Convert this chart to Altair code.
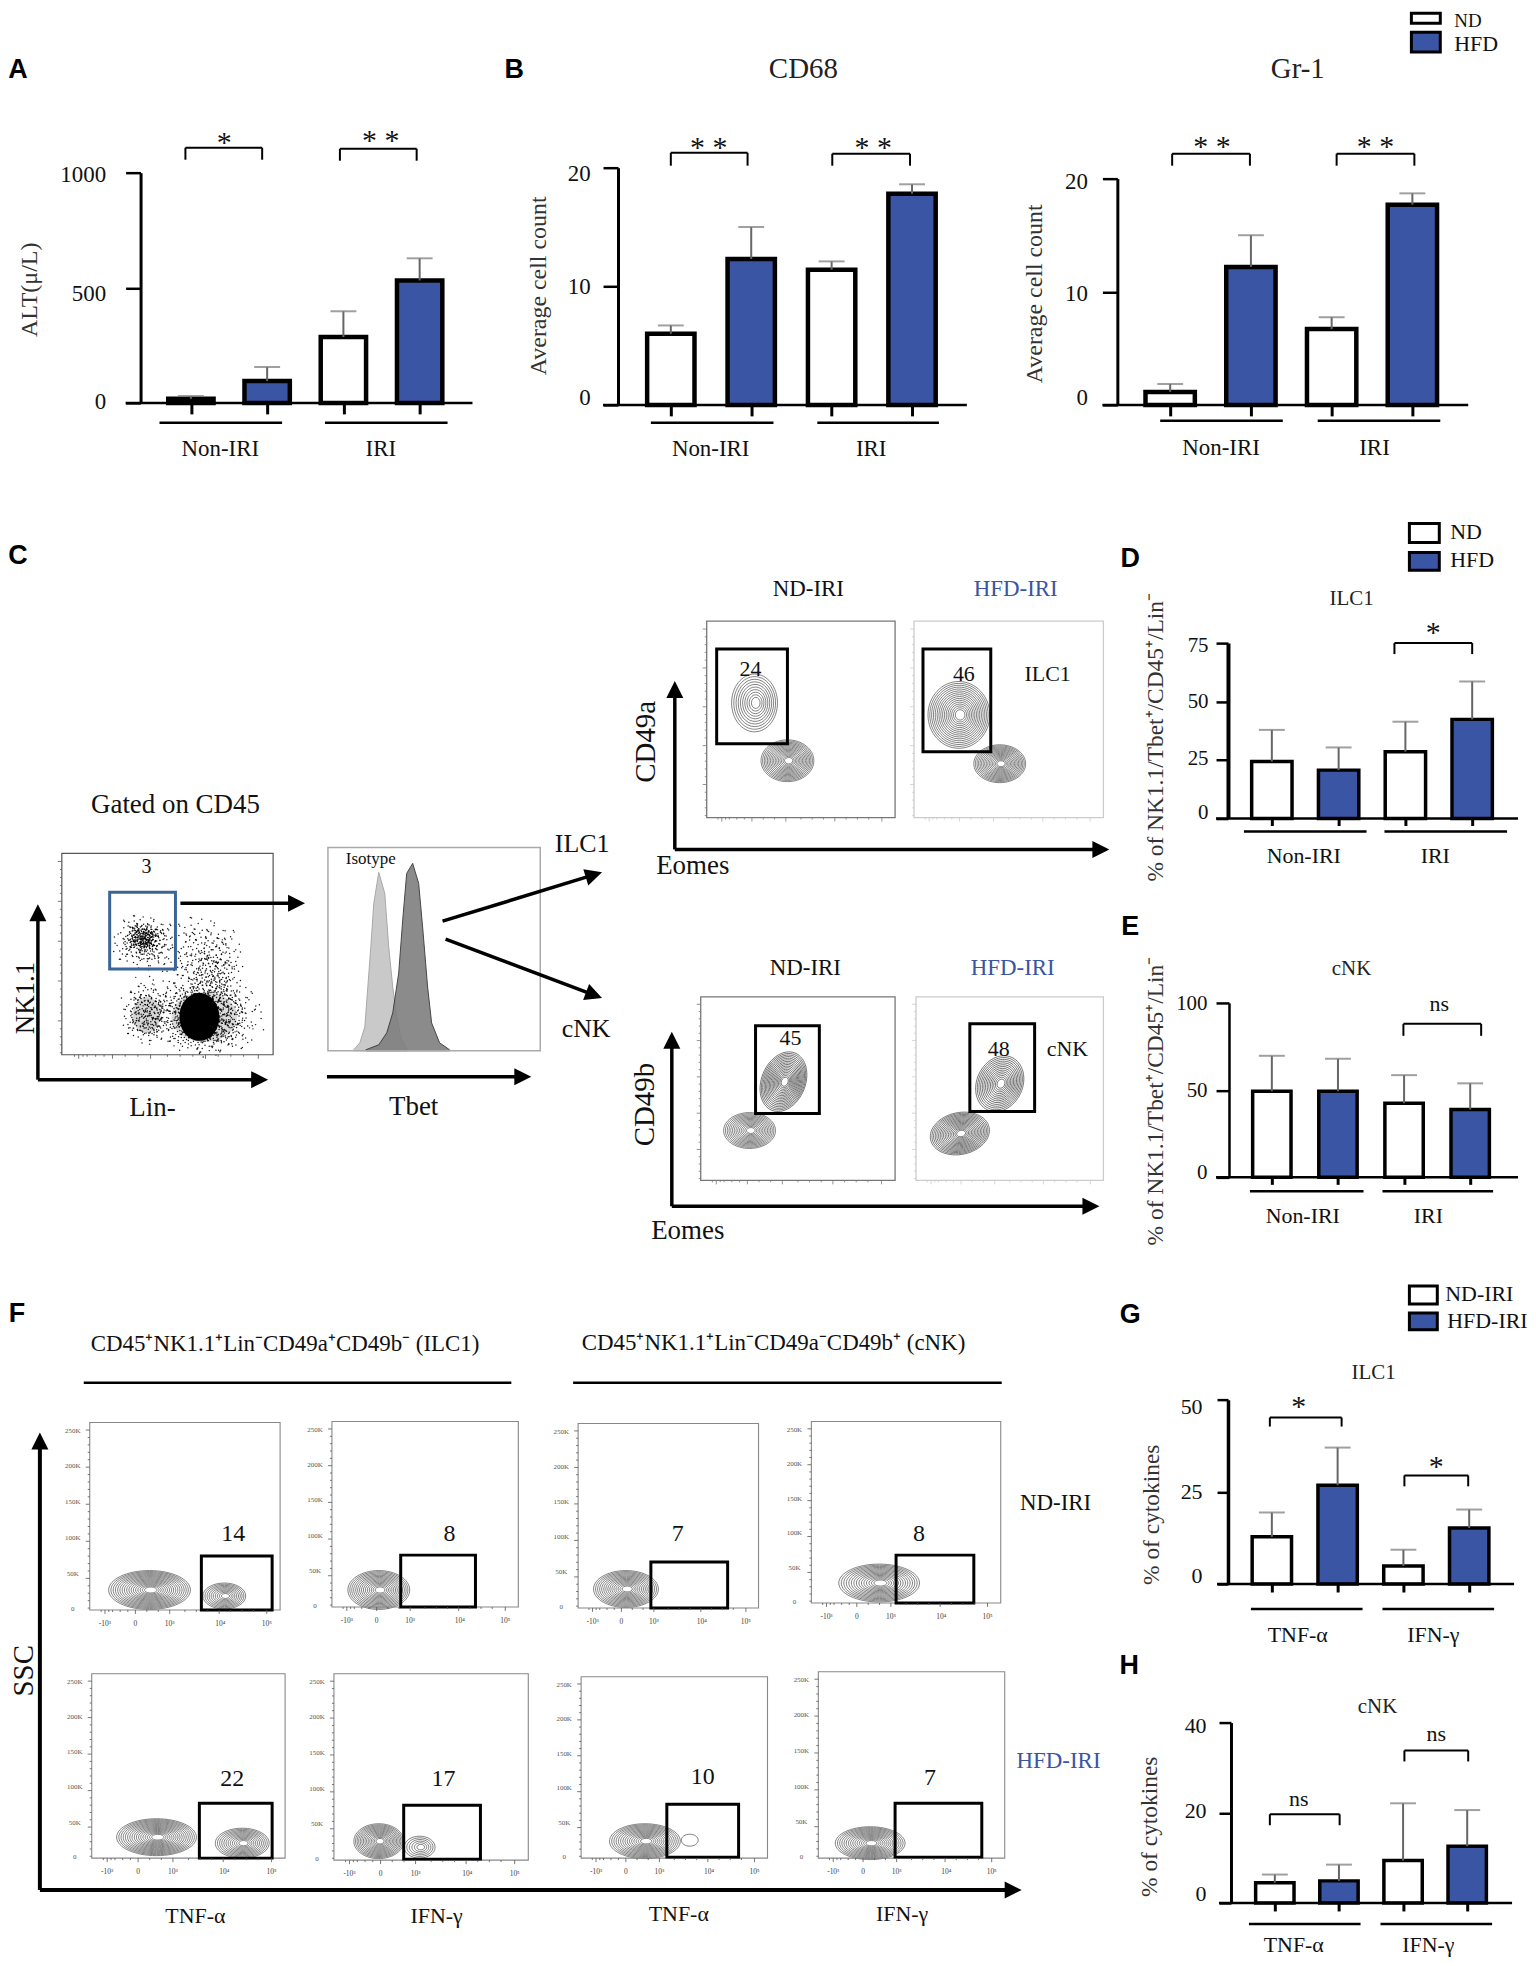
import math
import altair as alt
import pandas as pd

SERIF = "Liberation Serif"
SANS = "Liberation Sans"
BLUE = "#3a55a3"
INK = "#111111"

# ---------- bar chart values ----------
A_VAL, A_ERR = [18, 95, 286, 532], [30, 156, 398, 628]
CD68_VAL, CD68_ERR = [6.0, 12.3, 11.4, 17.8], [6.7, 15.0, 12.1, 18.6]
GR1_VAL, GR1_ERR = [1.15, 12.2, 6.7, 17.7], [1.85, 15.0, 7.75, 18.7]
D_VAL, D_ERR = [24.4, 20.7, 28.6, 42.4], [37.9, 30.4, 41.4, 58.6]
E_VAL, E_ERR = [49.4, 49.4, 42.5, 38.9], [69.7, 68.0, 58.6, 53.9]
G_VAL, G_ERR = [12.8, 26.8, 4.9, 15.2], [19.4, 37.0, 9.3, 20.2]
H_VAL, H_ERR = [4.5, 4.9, 9.4, 12.6], [6.3, 8.5, 22.1, 20.6]
DIETS = ["ND", "HFD", "ND", "HFD"]
PLACE = ["Non-IRI ND", "Non-IRI HFD", "IRI ND", "IRI HFD"]
CYTO = ["TNF-a ND", "TNF-a HFD", "IFN-g ND", "IFN-g HFD"]

# ---------- histogram outlines ----------
ISO_X = [355, 361, 366, 369, 372, 375, 380, 386, 390, 394, 398, 402, 408]
ISO_Y = [1050, 1043, 1027, 987, 947, 903, 872, 893, 947, 987, 1017, 1037, 1049]
TBET_X = [367, 380, 388, 394, 400, 404, 408, 414, 420, 424, 429, 433, 441, 451]
TBET_Y = [1050, 1045, 1033, 1013, 973, 920, 873, 863, 883, 927, 987, 1023, 1043, 1050]

# ---------- stipple offsets for the dot plot (hand placed in a unit disc) ----------
STIPPLE = [(-.82, .12), (-.71, -.33), (-.66, .41), (-.58, -.02), (-.52, .66), (-.49, -.56),
           (-.44, .25), (-.38, -.24), (-.35, .5), (-.31, -.74), (-.27, .08), (-.22, .78),
           (-.19, -.41), (-.15, .36), (-.11, -.12), (-.08, .6), (-.04, -.88), (-.01, .19),
           (.03, -.3), (.07, .46), (.1, -.61), (.13, .03), (.17, .82), (.2, -.17),
           (.24, .31), (.28, -.79), (.31, .57), (.35, -.45), (.38, .12), (.42, .72),
           (.46, -.06), (.5, -.62), (.53, .38), (.57, -.28), (.61, .55), (.64, .09),
           (.69, -.47), (.73, .27), (.78, -.13), (.84, .19), (-.9, -.18), (.91, -.3),
           (-.6, -.72), (.58, .78), (-.75, .6), (.76, -.62), (-.33, -.92), (.12, .94),
           (-.12, .3), (.06, -.47), (-.42, -.1), (.33, .22), (-.25, -.55), (.22, .6),
           (-.55, .15), (.47, -.35), (-.05, .05), (.15, -.05), (-.18, .52), (.4, .48)]

rules, rects, texts, heads, rings, solids = [], [], [], [], [], []


def text(s, x, y, size=22, color=INK, angle=0):
    texts.append(dict(t=s, x=x, y=y, size=size, c=color, a=angle))


def rule(x1, y1, x2, y2, w=2.5, c="black"):
    rules.append(dict(x=x1, x2=x2, y=y1, y2=y2, w=w, c=c))


def rect(x1, y1, x2, y2, stroke="black", w=3, fill="white", fo=0):
    rects.append(dict(x=x1, x2=x2, y=y1, y2=y2, s=stroke, w=w, f=fill, fo=fo))


def arrow(x1, y1, x2, y2, w=3.5):
    ang = math.degrees(math.atan2(x2 - x1, y1 - y2))
    d = math.hypot(x2 - x1, y2 - y1)
    k = (d - 14) / d
    rule(x1, y1, x1 + (x2 - x1) * k, y1 + (y2 - y1) * k, w)
    heads.append(dict(x=x2, y=y2, a=ang))


def oval(w, h):
    if w >= h:
        b = round(h / w, 3)
        return f"M-1,0A1,{b},0,1,0,1,0A1,{b},0,1,0,-1,0Z", w
    a = round(w / h, 3)
    return f"M-{a},0A{a},1,0,1,0,{a},0A{a},1,0,1,0,-{a},0Z", h


def blob(cx, cy, w, h, rot=0, n=15, core=True):
    path, major = oval(w, h)
    for i in range(n):
        f = 1 - .9 * i / max(n, 1)
        rings.append(dict(x=cx + (1 - f) * 1.5, y=cy, p=path, s=(major * f) ** 2, a=rot))
    if core:
        solids.append(dict(x=cx + 1.3, y=cy, p=path, s=(major * .07) ** 2, a=rot, c="white", o=1))


def solid(cx, cy, w, h, op, c="black"):
    path, major = oval(w, h)
    solids.append(dict(x=cx, y=cy, p=path, s=major ** 2, a=0, c=c, o=op))


def frame_ticks(x1, y1, x2, y2, c="#666666"):
    n = 24
    for i in range(n + 1):
        yy = y1 + (y2 - y1) * (.04 + .95 * i / n)
        rule(x1 - (4 if i % 5 == 0 else 2), yy, x1, yy, .8, c)
    for f in (.06, .08, .1, .12, .16, .2, .24, .3, .36, .42, .5, .56, .62, .68, .74, .8, .86, .93):
        xx = x1 + (x2 - x1) * f
        rule(xx, y2, xx, y2 + (4 if f in (.08, .24, .42, .68, .93) else 2), .8, c)


# ---------- panel letters ----------
for s, x, y in [("A", 18, 67), ("B", 516, 67), ("C", 18, 555), ("D", 1134, 558), ("E", 1134, 927),
                ("F", 17, 1315), ("G", 1134, 1316), ("H", 1133, 1668)]:
    texts.append(dict(t=s, x=x, y=y, size=27, c="black", a=0, letter=True))

# ---------- legends ----------
for x1, x2, ya, yb, yc, yd, la, lb, xa, xb, ty1, ty2, sz1, sz2 in [
    (1416, 1445, 10, 20, 29, 49, "ND", "HFD", 1459, 1459, 18, 41, 19, 22),
    (1414, 1444, 522, 541, 551, 569, "ND", "HFD", 1455, 1455, 531, 559, 22, 22),
    (1414, 1442, 1287, 1305, 1314, 1331, "ND-IRI", "HFD-IRI", 1450, 1452, 1295, 1322, 22, 22),
]:
    rect(x1, ya, x2, yb, "black", 3, "white", 1)
    rect(x1, yc, x2, yd, "black", 3, BLUE, 1)
    texts.append(dict(t=la, x=xa, y=ty1, size=sz1, c=INK, a=0, left=True))
    texts.append(dict(t=lb, x=xb, y=ty2, size=sz2, c=INK, a=0, left=True))

# ---------- bar chart annotations ----------
for s, x, y, z in [("CD68", 806, 66, 29), ("Gr-1", 1302, 66, 29), ("ILC1", 1356, 598, 21),
                   ("cNK", 1356, 969, 21), ("ILC1", 1378, 1374, 21), ("cNK", 1382, 1709, 21)]:
    text(s, x, y, z, "#222222")
for s, x, y, z in [("Non-IRI", 221, 447, 23), ("IRI", 382, 447, 23), ("Non-IRI", 713, 447, 23), ("IRI", 874, 447, 23),
                   ("Non-IRI", 1225, 446, 23), ("IRI", 1379, 446, 23), ("Non-IRI", 1308, 856, 22), ("IRI", 1440, 856, 22),
                   ("Non-IRI", 1307, 1217, 22), ("IRI", 1433, 1217, 22), ("TNF-α", 1302, 1637, 22), ("IFN-γ", 1438, 1637, 22),
                   ("TNF-α", 1298, 1948, 22), ("IFN-γ", 1433, 1948, 22)]:
    text(s, x, y, z)
for x1, x2, y in [(160, 283, 421), (326, 449, 421), (653, 776, 421), (820, 942, 421), (1164, 1287, 419), (1322, 1445, 419),
                  (1248, 1371, 831), (1389, 1512, 831), (1254, 1368, 1192), (1387, 1498, 1192),
                  (1255, 1367, 1611), (1387, 1499, 1611), (1253, 1365, 1927), (1385, 1497, 1927)]:
    rule(x1, y, x2, y, 2.5)
for x1, x2, y1, y2 in [(186, 263, 145, 157), (341, 418, 146, 158), (673, 750, 150, 163), (835, 913, 151, 163),
                       (1176, 1254, 151, 163), (1341, 1419, 151, 163), (1399, 1477, 642, 653), (1408, 1486, 1024, 1036),
                       (1274, 1346, 1419, 1428), (1409, 1473, 1477, 1488), (1274, 1344, 1817, 1828), (1409, 1473, 1753, 1764)]:
    rule(x1, y1, x2, y1, 2)
    rule(x1, y1, x1, y2, 2)
    rule(x2, y1, x2, y2, 2)
for s, x, y, z in [("*", 225, 140, 30), ("* *", 382, 138, 30), ("* *", 711, 145, 30), ("* *", 876, 145, 30),
                   ("* *", 1216, 144, 30), ("* *", 1380, 144, 30), ("*", 1438, 632, 30), ("*", 1303, 1408, 30), ("*", 1441, 1469, 30),
                   ("ns", 1444, 1004, 22), ("ns", 1303, 1802, 22), ("ns", 1441, 1736, 22)]:
    text(s, x, y, z)

# ---------- panel C: dot plot ----------
rect(62, 853, 274, 1055, "#555555", 1.2)
frame_ticks(62, 853, 274, 1055, "#555555")
text("Gated on CD45", 176, 804, 27)
text("3", 147, 867, 20)
for cx, cy, w, h, op in [(205, 1017, 66, 50, .14), (200, 1017, 40, 48, 1), (147, 1015, 28, 36, .16)]:
    solid(cx, cy, w, h, op)
dots = []
for cx, cy, rx, ry, turns in [(145, 942, 28, 24, 2), (143, 938, 14, 12, 2), (204, 957, 33, 36, 2), (215, 975, 26, 24, 1),
                              (147, 1015, 21, 26, 2), (210, 1017, 46, 34, 4), (205, 1017, 34, 30, 4), (165, 1005, 40, 32, 1)]:
    for scale in (1.2, .85):
        for ox, oy in STIPPLE:
            dots.append(dict(x=cx + ox * rx * scale, y=cy + oy * ry * scale))
            if turns >= 2:
                dots.append(dict(x=cx + oy * rx * scale, y=cy - ox * ry * scale))
            if turns >= 4:
                dots.append(dict(x=cx - ox * rx * scale * .93, y=cy + oy * ry * scale * 1.05))
                dots.append(dict(x=cx - oy * rx * scale * 1.07, y=cy - ox * ry * scale * .95))
rect(110, 892, 176, 969, "#3a6596", 3)
arrow(181, 903, 306, 903)
arrow(38, 1080, 38, 904)
arrow(38, 1080, 269, 1080)
text("NK1.1", 26, 998, 27, "#111111", 270)
text("Lin-", 153, 1108, 27)

# ---------- panel C: histogram ----------
rect(329, 847, 542, 1051, "#aaaaaa", 1.5)
text("Isotype", 372, 859, 17)
arrow(328, 1077, 533, 1077)
text("Tbet", 415, 1107, 27)
arrow(444, 921, 604, 872)
arrow(447, 939, 604, 998)
text("ILC1", 584, 844, 26)
text("cNK", 588, 1029, 26)

# ---------- panel C: contour plots ----------
for x1, y1, x2, y2, col in [(709, 620, 898, 817, "#777777"), (917, 620, 1107, 817, "#cccccc"),
                            (703, 997, 898, 1181, "#777777"), (919, 997, 1107, 1181, "#cccccc")]:
    rect(x1, y1, x2, y2, col, 1.3)
    frame_ticks(x1, y1, x2, y2, col)
blob(757, 702, 46, 58, 0, 10)
blob(790, 760, 53, 42, 0, 16)
blob(962, 714, 62, 67, 0, 16)
blob(1003, 763, 52, 38, 0, 16)
blob(786, 1082, 44, 62, 22, 17)
blob(752, 1131, 52, 36, 0, 14)
blob(1003, 1084, 46, 58, 25, 14)
blob(963, 1134, 60, 42, -12, 17)
for g in [(719, 648, 790, 743), (926, 648, 994, 751), (758, 1026, 822, 1114), (973, 1024, 1038, 1112)]:
    rect(*g)
for s, x, y, c in [("ND-IRI", 811, 588, INK), ("HFD-IRI", 1019, 588, BLUE), ("ND-IRI", 808, 968, INK), ("HFD-IRI", 1016, 968, BLUE)]:
    text(s, x, y, 23, c)
for s, x, y in [("24", 753, 668), ("46", 967, 673), ("ILC1", 1051, 673), ("45", 793, 1038), ("48", 1002, 1049), ("cNK", 1071, 1049)]:
    text(s, x, y, 22)
arrow(677, 849, 677, 680)
arrow(677, 849, 1113, 849)
arrow(674, 1207, 674, 1032)
arrow(674, 1207, 1103, 1207)
text("CD49a", 648, 741, 29, INK, 270)
text("Eomes", 695, 866, 27)
text("CD49b", 647, 1105, 29, INK, 270)
text("Eomes", 690, 1232, 27)

# ---------- panel F ----------
text("CD45⁺NK1.1⁺Lin⁻CD49a⁺CD49b⁻ (ILC1)", 286, 1345, 23)
text("CD45⁺NK1.1⁺Lin⁻CD49a⁻CD49b⁺ (cNK)", 776, 1344, 23)
rule(84, 1384, 513, 1384, 2.5)
rule(575, 1384, 1005, 1384, 2.5)
SSC_TICKS = [("250K", .045), ("200K", .233), ("150K", .425), ("100K", .616), ("50K", .807), ("0", .995)]
FL_TICKS = [("-10³", .08), ("0", .24), ("10³", .42), ("10⁴", .686), ("10⁵", .93)]
F_PANELS = [
    (90, 1424, 281, 1612, (202, 1558, 273, 1612), "14", 234, 1536),
    (333, 1423, 520, 1609, (402, 1557, 477, 1609), "8", 451, 1536),
    (580, 1425, 761, 1610, (653, 1564, 730, 1610), "7", 680, 1536),
    (814, 1423, 1004, 1605, (899, 1557, 977, 1605), "8", 922, 1536),
    (92, 1676, 286, 1861, (200, 1806, 273, 1861), "22", 233, 1782),
    (335, 1676, 530, 1863, (405, 1808, 482, 1862), "17", 445, 1782),
    (583, 1679, 770, 1861, (669, 1807, 741, 1860), "10", 705, 1780),
    (821, 1674, 1008, 1861, (898, 1806, 985, 1860), "7", 933, 1781),
]
for x1, y1, x2, y2, gate, num, nx, ny in F_PANELS:
    rect(x1, y1, x2, y2, "#888888", 1.1)
    frame_ticks(x1, y1, x2, y2, "#555555")
    for s, f in SSC_TICKS:
        text(s, x1 - 17, y1 + (y2 - y1) * f, 7, "#555555")
    for s, f in FL_TICKS:
        text(s, x1 + (x2 - x1) * f, y2 + 14, 7.5, "#444444")
    rect(*gate)
    text(num, nx, ny, 24)
blob(150, 1592, 82, 39, 0, 17)
blob(225, 1598, 43, 26, 0, 10)
blob(380, 1592, 62, 39)
blob(628, 1591, 65, 37)
blob(882, 1585, 81, 38)
blob(157, 1840, 80, 37, 0, 17)
blob(243, 1846, 54, 30, 0, 12)
blob(380, 1844, 50, 35)
blob(421, 1850, 31, 22, 0, 6)
blob(647, 1844, 71, 35)
blob(692, 1843, 17, 12, 0, 1, False)
blob(873, 1846, 70, 33)
text("ND-IRI", 1059, 1505, 23)
text("HFD-IRI", 1062, 1764, 23, BLUE)
arrow(40, 1893, 40, 1434, 4)
arrow(40, 1893, 1025, 1893, 4)
text("SSC", 24, 1673, 29, INK, 270)
for s, x, y in [("TNF-α", 196, 1919), ("IFN-γ", 438, 1919), ("TNF-α", 681, 1917), ("IFN-γ", 905, 1917)]:
    text(s, x, y, 22)

# ---------- page canvas: reference pixels mapped one to one ----------
CX = alt.Scale(domain=[8, 141], range=[0, 133])
CY = alt.Scale(domain=[8, 401], range=[0, 393])
X = lambda f="x": alt.X(f"{f}:Q", scale=CX, axis=None)
Y = lambda f="y": alt.Y(f"{f}:Q", scale=CY, axis=None)

tdf = pd.DataFrame(texts)
tdf["letter"] = tdf["letter"].eq(True)
tdf["left"] = tdf["left"].eq(True)
plain = tdf[~tdf.letter & ~tdf.left]
lefts = tdf[tdf.left]
letters = tdf[tdf.letter]


def text_layer(df, **mk):
    return alt.Chart(df[["t", "x", "y", "size", "c", "a"]]).mark_text(baseline="middle", **mk).encode(
        x=X(), y=Y(), text="t:N",
        size=alt.Size("size:Q", scale=None),
        color=alt.Color("c:N", scale=None),
        angle=alt.Angle("a:Q", scale=None),
    )


hist_iso = pd.DataFrame({"x": ISO_X, "y": ISO_Y, "b": 1051})
hist_tbet = pd.DataFrame({"x": TBET_X, "y": TBET_Y, "b": 1051})
alt.data_transformers.disable_max_rows()

canvas = alt.layer(
    alt.Chart(pd.DataFrame(solids)).mark_point(filled=True, strokeWidth=0).encode(
        x=X(), y=Y(), shape=alt.Shape("p:N", scale=None), size=alt.Size("s:Q", scale=None),
        color=alt.Color("c:N", scale=None), opacity=alt.Opacity("o:Q", scale=None)),
    alt.Chart(pd.DataFrame(dots)).mark_circle(size=2.2, color="black", opacity=.9).encode(x=X(), y=Y()),
    alt.Chart(hist_iso).mark_area(color="#c9c9c9", stroke="#a8a8a8", strokeWidth=1).encode(x=X(), y=Y(), y2="b:Q"),
    alt.Chart(hist_tbet).mark_area(color="#7f7f7f", opacity=.9, stroke="#333333", strokeWidth=1).encode(x=X(), y=Y(), y2="b:Q"),
    alt.Chart(pd.DataFrame(rings)).mark_point(filled=False, stroke="#4d4d4d", strokeWidth=.7, opacity=1).encode(
        x=X(), y=Y(), shape=alt.Shape("p:N", scale=None), size=alt.Size("s:Q", scale=None),
        angle=alt.Angle("a:Q", scale=None)),
    alt.Chart(pd.DataFrame(rects)).mark_rect().encode(
        x=X(), x2="x2:Q", y=Y(), y2="y2:Q",
        fill=alt.Fill("f:N", scale=None), fillOpacity=alt.FillOpacity("fo:Q", scale=None),
        stroke=alt.Stroke("s:N", scale=None), strokeWidth=alt.StrokeWidth("w:Q", scale=None)),
    alt.Chart(pd.DataFrame(rules)).mark_rule().encode(
        x=X(), x2="x2:Q", y=Y(), y2="y2:Q",
        color=alt.Color("c:N", scale=None), strokeWidth=alt.StrokeWidth("w:Q", scale=None)),
    alt.Chart(pd.DataFrame(heads)).mark_point(
        shape="M0,0L0.55,1.1L-0.55,1.1Z", size=960, filled=True, color="black", opacity=1, strokeWidth=0
    ).encode(x=X(), y=Y(), angle=alt.Angle("a:Q", scale=None)),
    text_layer(plain, font=SERIF),
    text_layer(lefts, font=SERIF, align="left"),
    text_layer(letters, font=SANS, fontWeight="bold"),
).properties(width=133, height=393)


def bars(val, err, cats, ticks, ylab, ax, top, base, tick_top, ymax, centers, bw, sw, fw,
         tl, td, dom, ylab_xy, lab_size, lab_pad, xend, ylab_size=22, cap=26, shift=0, nudges=()):
    """ax is the frame's left edge; shift moves the y axis right of it; nudges pairs tick values with label shifts."""
    df = pd.DataFrame({"cat": cats, "diet": DIETS, "val": val, "err": err})
    h = base - top
    ys = alt.Scale(domain=[0, ymax], range=[h, tick_top - top], nice=False)
    xs = alt.Scale(type="point", domain=cats, range=[centers[0] - ax, centers[3] - ax], padding=0)
    x = alt.X("cat:N", scale=xs, title=None, sort=cats,
              axis=alt.Axis(labels=False, domain=False, tickSize=td, tickWidth=3, tickColor="black", title=None))
    label_shift = {"condition": [{"test": f"datum.value == {v}", "value": d} for v, d in nudges], "value": 0}
    y_axis = alt.Axis(
        values=ticks, format="d", grid=False, tickSize=tl, tickWidth=2.5, tickColor="black", domainColor="black",
        domainWidth=dom, labelFont=SERIF, labelFontSize=lab_size, labelColor=INK, labelPadding=lab_pad,
        labelOffset=label_shift, labelBound=False, labelFlush=False,
        title=ylab, titleFont=SERIF, titleFontSize=ylab_size, titleFontWeight="normal", titleColor="#333333",
        titleAngle=270, titleAlign="center", titleBaseline="middle",
        titleX=ylab_xy[0] - ax - shift, titleY=ylab_xy[1] - top, offset=-shift,
    )
    y0 = alt.Y("val:Q", scale=ys, axis=y_axis, stack=None)
    return alt.layer(
        alt.Chart(df).mark_bar(size=bw - sw, stroke="black", strokeWidth=sw).encode(
            x=x, y=y0,
            color=alt.Color("diet:N", scale=alt.Scale(domain=["ND", "HFD"], range=["white", BLUE]), legend=None)),
        alt.Chart(df).mark_rule(color="#666666", strokeWidth=2).encode(
            x=alt.X("cat:N", scale=xs, sort=cats), y=alt.Y("val:Q", scale=ys), y2="err:Q"),
        alt.Chart(df).mark_tick(orient="horizontal", size=cap, thickness=2, color="#777777").encode(
            x=alt.X("cat:N", scale=xs, sort=cats), y=alt.Y("err:Q", scale=ys)),
        alt.Chart(pd.DataFrame({"v": [0]})).mark_rule(color="black", strokeWidth=2.5).encode(
            x=alt.value(shift - tl), x2=alt.value(xend - ax), y=alt.Y("v:Q", scale=ys)),
    ).properties(width=fw, height=h)


def filler(w=1, h=1):
    return alt.Chart(pd.DataFrame({"a": [0]})).mark_point(opacity=0, size=1).encode(
        x=alt.value(w / 2), y=alt.value(h / 2)).properties(width=w, height=h)


pa = bars(A_VAL, A_ERR, PLACE, [0, 500, 1000], "ALT(μ/L)", 141, 8, 401, 170, 1000, [191.5, 268, 345, 421], 50, 4.5, 479,
          15, 11, 3, (30, 287), 23, 20, 474, 24, nudges=[(1000, 2), (500, 6), (0, -1)])
pb = bars(CD68_VAL, CD68_ERR, PLACE, [0, 10, 20], "Average cell count", 620, 8, 403, 165, 20, [673, 754, 834, 915], 52, 4.5, 501,
          15, 11, 3, (540, 283), 23, 13, 970, 24, nudges=[(20, 6), (0, -7)])
pc = bars(GR1_VAL, GR1_ERR, PLACE, [0, 10, 20], "Average cell count", 1121, 8, 403, 176, 20, [1174, 1255, 1337, 1417], 54, 4.5, 111,
          15, 11, 3, (1038, 291), 23, 15, 1473, 24, nudges=[(20, 3), (10, 2), (0, -7)])
Y_PCT = "% of NK1.1/Tbet⁺/CD45⁺/Lin⁻"
pd_ = bars(D_VAL, D_ERR, PLACE, [0, 25, 50, 75], Y_PCT, 1232, 403, 818, 642, 75, [1276, 1343, 1410, 1477], 44, 3.5, 296,
           12, 7, 4, (1159, 736), 21, 8, 1523, 23.5, nudges=[(75, 2), (25, -2), (0, -6)])
pe = bars(E_VAL, E_ERR, PLACE, [0, 50, 100], Y_PCT, 1232, 818, 1178, 1003, 100, [1276, 1343, 1409, 1475], 42, 3.5, 296,
          13, 7, 2.5, (1159, 1101), 21, 9, 1523, 23.5, shift=1, nudges=[(100, 1), (0, -5)])
pg = bars(G_VAL, G_ERR, CYTO, [0, 25, 50], "% of cytokines", 1232, 1178, 1586, 1401, 50, [1276, 1342, 1408, 1474], 43, 3.5, 296,
          11, 8, 3.5, (1155, 1516), 22, 15, 1519, 23.5, nudges=[(50, 7), (0, -9)])
ph = bars(H_VAL, H_ERR, CYTO, [0, 20, 40], "% of cytokines", 1232, 1586, 1906, 1725, 40, [1279, 1343, 1408, 1472], 42, 3.5, 296,
          12, 8, 3, (1153, 1829), 22, 13, 1517, 23.5, shift=3, nudges=[(40, 3), (20, -2), (0, -9)])

cells = [
    canvas, pa, pb, pc, filler(),
    filler(), filler(), filler(), filler(), pd_,
    filler(), filler(), filler(), filler(), pe,
    filler(), filler(), filler(), filler(), pg,
    filler(), filler(), filler(), filler(), ph,
]
chart = alt.concat(*cells, columns=5, spacing=0, bounds="flush", align="none").properties(
    padding=0, background="white"
).configure_view(stroke=None).configure_axis(grid=False)
chart.save("out.html", embed_options={"renderer": "svg", "actions": False})
